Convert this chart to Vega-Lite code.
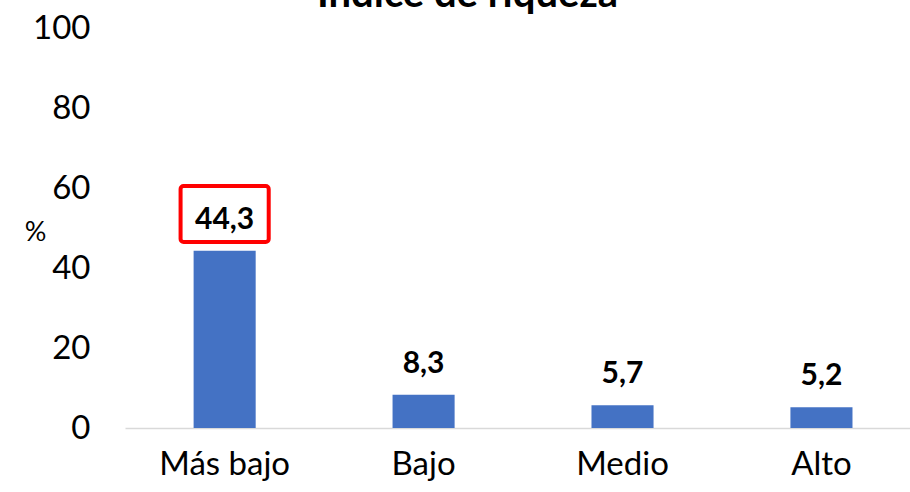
{
  "$schema": "https://vega.github.io/schema/vega-lite/v6.json",
  "autosize": "none",
  "width": 785,
  "height": 400,
  "padding": {"left": 125, "top": 28, "right": 0, "bottom": 64},
  "background": "white",
  "config": {
    "font": "Lato",
    "view": {"stroke": null},
    "locale": {"number": {"decimal": ",", "thousands": ".", "grouping": [3], "currency": ["", " €"]}}
  },
  "title": {
    "text": "Índice de riqueza",
    "fontSize": 40,
    "fontWeight": "bold",
    "color": "#000000",
    "anchor": "middle",
    "frame": "group",
    "dx": -50,
    "dy": 39,
    "baseline": "alphabetic",
    "offset": 4
  },
  "data": {
    "values": [
      {"categoria": "Más bajo", "valor": 44.3},
      {"categoria": "Bajo", "valor": 8.3},
      {"categoria": "Medio", "valor": 5.7},
      {"categoria": "Alto", "valor": 5.2}
    ]
  },
  "encoding": {
    "x": {
      "field": "categoria",
      "type": "nominal",
      "sort": null,
      "scale": {"paddingInner": 0.688, "paddingOuter": 0.317, "align": 0.544},
      "axis": {
        "title": null,
        "labelAngle": 0,
        "labelFontSize": 33,
        "labelColor": "#000000",
        "labelPadding": 20,
        "ticks": false,
        "domainColor": "#d9d9d9",
        "domainWidth": 1.5
      }
    }
  },
  "layer": [
    {
      "mark": {"type": "bar", "color": "#4472C4"},
      "encoding": {
        "y": {
          "field": "valor",
          "type": "quantitative",
          "scale": {"domain": [0, 100], "nice": false},
          "axis": {
            "values": [0, 20, 40, 60, 80, 100],
            "grid": false,
            "domain": false,
            "ticks": false,
            "labelFontSize": 33,
            "labelColor": "#000000",
            "labelPadding": 35,
            "title": "%",
            "titleAngle": 0,
            "titleFontSize": 27,
            "titleFontWeight": "normal",
            "titleColor": "#000000",
            "titleX": -90,
            "titleY": 204,
            "titleAlign": "center",
            "titleBaseline": "middle"
          }
        }
      }
    },
    {
      "mark": {"type": "text", "fontSize": 30, "fontWeight": "bold", "color": "#000000", "baseline": "bottom", "dy": -16},
      "encoding": {
        "y": {"field": "valor", "type": "quantitative"},
        "text": {"field": "valor", "type": "quantitative", "format": ".1f"}
      }
    },
    {
      "transform": [{"filter": "datum.categoria === 'Más bajo'"}],
      "mark": {"type": "rect", "fill": null, "stroke": "#FF0000", "strokeWidth": 4, "cornerRadius": 3, "width": {"band": 1.42}},
      "encoding": {
        "y": {"datum": 46.5, "type": "quantitative"},
        "y2": {"datum": 60.5}
      }
    }
  ]
}
